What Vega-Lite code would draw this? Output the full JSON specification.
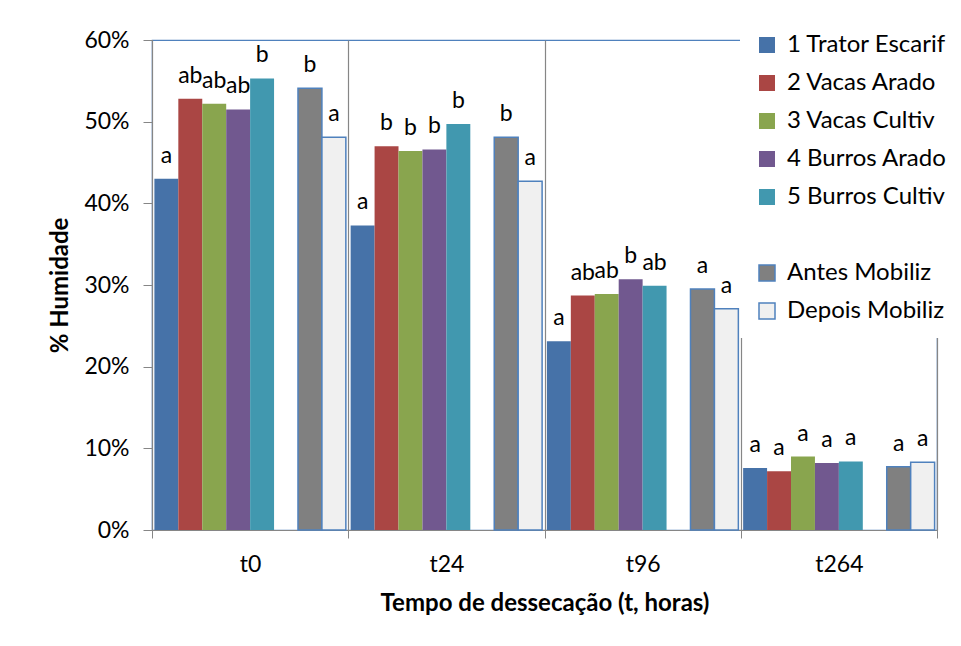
{
  "$schema": "https://vega.github.io/schema/vega-lite/v6.json",
  "width": 785,
  "height": 490,
  "autosize": {"type": "none"},
  "padding": {"left": 152, "top": 40, "right": 24, "bottom": 116},
  "background": "white",
  "config": {
    "font": "Lato",
    "view": {"stroke": "#4F81BD", "strokeWidth": 1.2},
    "axis": {"labelFont": "Lato", "titleFont": "Lato", "labelColor": "#000000", "titleColor": "#000000", "domainColor": "#868686", "tickColor": "#868686", "gridColor": "#868686"}
  },
  "data": {
    "values": [
      {"tempo": "t0", "serie": "1 Trator Escarif", "valor": 0.430, "letra": "a"},
      {"tempo": "t0", "serie": "2 Vacas Arado", "valor": 0.528, "letra": "ab"},
      {"tempo": "t0", "serie": "3 Vacas Cultiv", "valor": 0.522, "letra": "ab"},
      {"tempo": "t0", "serie": "4 Burros Arado", "valor": 0.515, "letra": "ab"},
      {"tempo": "t0", "serie": "5 Burros Cultiv", "valor": 0.553, "letra": "b"},
      {"tempo": "t0", "serie": "Antes Mobiliz", "valor": 0.541, "letra": "b"},
      {"tempo": "t0", "serie": "Depois Mobiliz", "valor": 0.481, "letra": "a"},
      {"tempo": "t24", "serie": "1 Trator Escarif", "valor": 0.373, "letra": "a"},
      {"tempo": "t24", "serie": "2 Vacas Arado", "valor": 0.470, "letra": "b"},
      {"tempo": "t24", "serie": "3 Vacas Cultiv", "valor": 0.464, "letra": "b"},
      {"tempo": "t24", "serie": "4 Burros Arado", "valor": 0.466, "letra": "b"},
      {"tempo": "t24", "serie": "5 Burros Cultiv", "valor": 0.497, "letra": "b"},
      {"tempo": "t24", "serie": "Antes Mobiliz", "valor": 0.481, "letra": "b"},
      {"tempo": "t24", "serie": "Depois Mobiliz", "valor": 0.427, "letra": "a"},
      {"tempo": "t96", "serie": "1 Trator Escarif", "valor": 0.231, "letra": "a"},
      {"tempo": "t96", "serie": "2 Vacas Arado", "valor": 0.287, "letra": "ab"},
      {"tempo": "t96", "serie": "3 Vacas Cultiv", "valor": 0.289, "letra": "ab"},
      {"tempo": "t96", "serie": "4 Burros Arado", "valor": 0.307, "letra": "b"},
      {"tempo": "t96", "serie": "5 Burros Cultiv", "valor": 0.299, "letra": "ab"},
      {"tempo": "t96", "serie": "Antes Mobiliz", "valor": 0.295, "letra": "a"},
      {"tempo": "t96", "serie": "Depois Mobiliz", "valor": 0.271, "letra": "a"},
      {"tempo": "t264", "serie": "1 Trator Escarif", "valor": 0.076, "letra": "a"},
      {"tempo": "t264", "serie": "2 Vacas Arado", "valor": 0.072, "letra": "a"},
      {"tempo": "t264", "serie": "3 Vacas Cultiv", "valor": 0.090, "letra": "a"},
      {"tempo": "t264", "serie": "4 Burros Arado", "valor": 0.082, "letra": "a"},
      {"tempo": "t264", "serie": "5 Burros Cultiv", "valor": 0.084, "letra": "a"},
      {"tempo": "t264", "serie": "Antes Mobiliz", "valor": 0.0775, "letra": "a"},
      {"tempo": "t264", "serie": "Depois Mobiliz", "valor": 0.083, "letra": "a"}
    ]
  },
  "encoding": {
    "x": {
      "field": "tempo", "type": "nominal",
      "sort": ["t0", "t24", "t96", "t264"],
      "scale": {"paddingInner": 0, "paddingOuter": 0},
      "axis": {
        "title": "Tempo de dessecação (t, horas)",
        "titleFontSize": 24, "titleFontWeight": "bold", "titlePadding": 15,
        "labelFontSize": 23, "labelAngle": 0, "labelPadding": 15,
        "tickBand": "extent", "tickSize": 8, "grid": true, "gridWidth": 1.2
      }
    },
    "xOffset": {
      "field": "serie", "type": "nominal",
      "scale": {
        "domain": ["1 Trator Escarif", "2 Vacas Arado", "3 Vacas Cultiv", "4 Burros Arado", "5 Burros Cultiv", " ", "Antes Mobiliz", "Depois Mobiliz"],
        "paddingInner": 0, "paddingOuter": 0.1
      }
    },
    "y": {
      "field": "valor", "type": "quantitative",
      "scale": {"domain": [0, 0.6], "nice": false},
      "axis": {
        "title": "% Humidade", "titleFontSize": 24, "titleFontWeight": "bold", "titlePadding": 11,
        "values": [0, 0.1, 0.2, 0.3, 0.4, 0.5, 0.6], "format": ".0%",
        "labelFontSize": 23, "labelPadding": 14, "tickSize": 9, "grid": false
      }
    }
  },
  "layer": [
    {
      "mark": {"type": "bar", "strokeWidth": 1.5},
      "encoding": {
        "fill": {
          "field": "serie", "type": "nominal",
          "scale": {
            "domain": ["1 Trator Escarif", "2 Vacas Arado", "3 Vacas Cultiv", "4 Burros Arado", "5 Burros Cultiv", " ", "Antes Mobiliz", "Depois Mobiliz"],
            "range": ["#4672A8", "#AA4644", "#89A54E", "#71588F", "#4198AF", "transparent", "#808080", "#F0F0F0"]
          },
          "legend": {
            "title": null, "orient": "none", "legendX": 588, "legendY": -22,
            "fillColor": "white", "padding": 15, "zindex": 1,
            "labelFont": "Lato", "labelFontSize": 24, "labelColor": "#000000",
            "symbolType": "square", "symbolSize": 256, "symbolStrokeWidth": 1.5,
            "labelOffset": 8, "rowPadding": 14, "labelLimit": 300
          }
        },
        "stroke": {
          "field": "serie", "type": "nominal",
          "scale": {
            "domain": ["1 Trator Escarif", "2 Vacas Arado", "3 Vacas Cultiv", "4 Burros Arado", "5 Burros Cultiv", " ", "Antes Mobiliz", "Depois Mobiliz"],
            "range": ["transparent", "transparent", "transparent", "transparent", "transparent", "transparent", "#4F81BD", "#4F81BD"]
          },
          "legend": {
            "title": null, "orient": "none", "legendX": 588, "legendY": -22,
            "fillColor": "white", "padding": 15, "zindex": 1,
            "labelFont": "Lato", "labelFontSize": 24, "labelColor": "#000000",
            "symbolType": "square", "symbolSize": 256, "symbolStrokeWidth": 1.5,
            "labelOffset": 8, "rowPadding": 14, "labelLimit": 300
          }
        }
      }
    },
    {
      "mark": {"type": "text", "baseline": "alphabetic", "dy": -16, "font": "Lato", "fontSize": 23, "color": "#000000"},
      "encoding": {
        "text": {"field": "letra", "type": "nominal"}
      }
    }
  ]
}
